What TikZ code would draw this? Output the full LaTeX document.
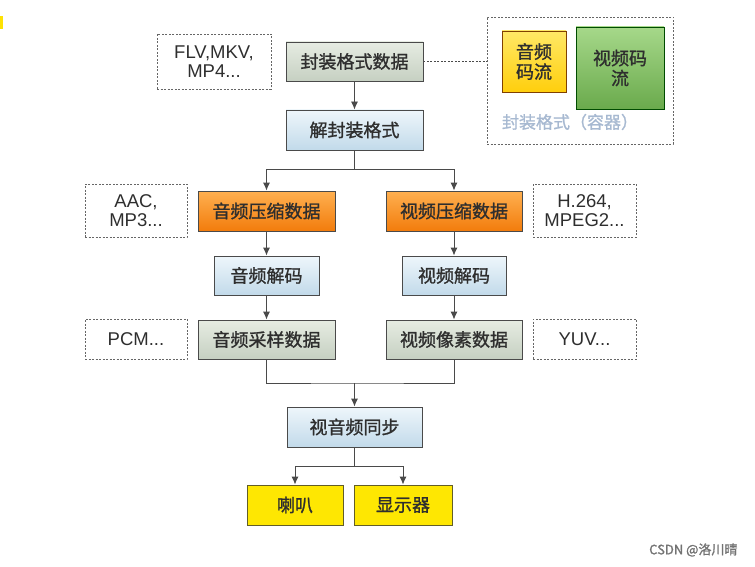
\documentclass[tikz,border=0pt]{standalone}
\usepackage{fontspec}
\setmainfont{Liberation Sans}
\newfontfamily\cjk[FakeBold=1.2]{Noto Sans CJK SC}
\usetikzlibrary{arrows.meta,positioning}
\definecolor{bd}{HTML}{4A4A4A}
\definecolor{txt}{HTML}{2E2E2E}
\definecolor{gtop}{HTML}{E6ECE2}
\definecolor{gbot}{HTML}{C6D0C2}
\definecolor{btop}{HTML}{EEF6FB}
\definecolor{bbot}{HTML}{C2DAEA}
\definecolor{otop}{HTML}{FFB050}
\definecolor{obot}{HTML}{F27C0C}
\definecolor{clab}{HTML}{A7B9D1}
\definecolor{grtop}{HTML}{A6D88A}
\definecolor{grbot}{HTML}{6AAA4C}
\begin{document}
\begin{tikzpicture}[x=1pt,y=-1pt,
  base/.style={draw=bd,line width=0.9pt,inner sep=0pt,align=center,text=txt,
    font=\cjk\fontsize{18}{20}\selectfont},
  greybox/.style={base,top color=gtop,bottom color=gbot},
  bluebox/.style={base,top color=btop,bottom color=bbot},
  orangebox/.style={base,top color=otop,bottom color=obot},
  yellowbox/.style={base,fill=yellow!90!orange,draw=olive!60!black},
  note/.style={draw=black!60,line width=0.9pt,dash pattern=on 2pt off 1.5pt,inner sep=0pt,
    align=center,text=txt,font=\fontsize{18.5}{19}\selectfont},
  arr/.style={draw=bd,line width=0.9pt,-{Latex[length=8pt,width=7pt]}},
  ln/.style={draw=bd,line width=0.9pt}]
\useasboundingbox (0,0) rectangle (755,567);
\fill[yellow!85!orange] (0,16) rectangle (3,29);

% main column
\node[greybox,minimum width=137pt,minimum height=39pt] (fmt) at (354.5,61.5) {封装格式数据};
\node[bluebox,minimum width=137pt,minimum height=40pt] (demux) at (354.5,130) {解封装格式};
\node[orangebox,minimum width=137pt,minimum height=40pt] (acomp) at (266.5,211) {音频压缩数据};
\node[orangebox,minimum width=136pt,minimum height=40pt] (vcomp) at (454,211) {视频压缩数据};
\node[bluebox,minimum width=105pt,minimum height=39pt] (adec) at (266.5,275.5) {音频解码};
\node[bluebox,minimum width=104pt,minimum height=39pt] (vdec) at (454,275.5) {视频解码};
\node[greybox,minimum width=137pt,minimum height=39pt] (araw) at (266.5,339.5) {音频采样数据};
\node[greybox,minimum width=136pt,minimum height=39pt] (vraw) at (454,339.5) {视频像素数据};
\node[bluebox,minimum width=135pt,minimum height=40pt] (sync) at (354.5,427) {视音频同步};
\node[yellowbox,minimum width=96pt,minimum height=40pt] (spk) at (295,505) {喇叭};
\node[yellowbox,minimum width=98pt,minimum height=40pt] (disp) at (403,505) {显示器};

% notes
\node[note,minimum width=114pt,minimum height=55pt] (n1) at (214,61.5) {FLV,MKV,\\MP4...};
\node[note,minimum width=102pt,minimum height=53pt] (n2) at (136,210.5) {AAC,\\MP3...};
\node[note,minimum width=103pt,minimum height=53pt] (n3) at (584.5,210.5) {H.264,\\MPEG2...};
\node[note,minimum width=102pt,minimum height=40pt] (n4) at (136,339) {PCM...};
\node[note,minimum width=103pt,minimum height=40pt] (n5) at (584.5,339) {YUV...};

% container
\node[note,minimum width=186pt,minimum height=127pt] (cont) at (580,80.5) {};
\node[base,top color=yellow!70!orange!60,bottom color=orange!40!yellow!95,draw=orange!50!black,
  minimum width=64pt,minimum height=61pt] (astream) at (534,61.5) {音频\\码流};
\node[base,top color=grtop,bottom color=grbot,draw=green!30!black,
  minimum width=88pt,minimum height=82pt] (vstream) at (620,68) {视频码\\流};
\node[font=\cjk\fontsize{17}{19}\selectfont,text=clab] (clabel) at (570,122) {封装格式（容器）};

% connectors
\draw[ln,dash pattern=on 2pt off 1.5pt] (fmt.east) -- (fmt.east -| cont.west);
\draw[arr] (fmt) -- (demux);
\coordinate (s1) at (354.5,169);
\draw[ln] (demux.south) -- (s1);
\draw[arr] (s1) -| (acomp.north);
\draw[arr] (s1) -| (vcomp.north);
\draw[arr] (acomp) -- (adec);
\draw[arr] (adec) -- (araw);
\draw[arr] (vcomp) -- (vdec);
\draw[arr] (vdec) -- (vraw);
\coordinate (m) at (354.5,383);
\draw[ln] (araw.south) |- (m) -| (vraw.south);
\draw[arr] (m) -- (sync.north);
\coordinate (s2) at (354.5,466);
\draw[ln] (sync.south) -- (s2);
\draw[arr] (s2) -| (spk.north);
\draw[arr] (s2) -| (disp.north);

% watermark
\node[font=\cjk\fontsize{13}{15}\selectfont,text=black!55,anchor=east] (wm) at (741,550) {CSDN @洛川晴};
\end{tikzpicture}
\end{document}
